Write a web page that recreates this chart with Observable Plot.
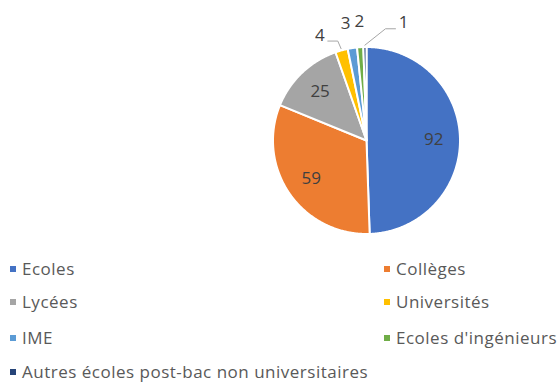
<!DOCTYPE html>
<html><head><meta charset="utf-8">
<script src="https://cdn.jsdelivr.net/npm/d3@7"></script>
<script src="https://cdn.jsdelivr.net/npm/@observablehq/plot@0.6"></script>
<style>
body{margin:0;background:#fff;}
#wrap{position:relative;width:558px;height:383px;font-family:"Open Sans",sans-serif;overflow:hidden}
#wrap svg{position:absolute;left:0;top:0}
.leg{position:absolute;font-size:17px;letter-spacing:0.5px;color:#595959;white-space:nowrap;line-height:16px;height:16px}
.sw{display:inline-block;width:6px;height:6px;margin-right:6px;vertical-align:middle;position:relative;top:-1px}
</style></head><body><div id="wrap"></div>
<script>
const categories = ["Ecoles","Collèges","Lycées","Universités","IME","Ecoles d'ingénieurs","Autres écoles post-bac non universitaires"];
const values = [92,59,25,4,3,2,1];
const colors = ["#4472C4","#ED7D31","#A5A5A5","#FFC000","#5B9BD5","#70AD47","#264478"];

const W = 558, H = 250, R = 93.5, CX = 366, CY = 140;
const total = d3.sum(values);
const deg = Math.PI / 180;
let acc = 0;
const slices = values.map((v, i) => {
  const a0 = acc / total * 360; acc += v; const a1 = acc / total * 360;
  return {name: categories[i], value: v, a0, a1, mid: (a0 + a1) / 2};
});
const polar = (r, a) => ({x: r * Math.sin(a * deg), y: r * Math.cos(a * deg)});

const pts = [];
for (const s of slices) {
  pts.push({name: s.name, ...polar(0, 0)});
  const n = Math.max(2, Math.ceil((s.a1 - s.a0) / 0.5));
  for (let k = 0; k <= n; k++) pts.push({name: s.name, ...polar(1, s.a0 + (s.a1 - s.a0) * k / n)});
  pts.push({name: s.name, ...polar(0, 0)});
}

const inside = slices.filter(s => s.value >= 10).map(s => ({label: String(s.value), ...polar(0.72, s.mid)}));
const outside = slices.filter(s => s.value < 10);
// label nudges (px) for the small outside labels, Excel-style best fit
const nudge = {"Universités": [-15, 9], "IME": [-3, 0], "Ecoles d'ingénieurs": [1, 0], "Autres écoles post-bac non universitaires": [39, 1]};
const outLabels = outside.map(s => {
  const p = polar(1.27, s.mid), [dx, dy] = nudge[s.name];
  return {label: String(s.value), name: s.name, x: p.x + dx / R, y: p.y - dy / R};
});
const leaders = [];
for (const [name, side] of [["Universités", 1], ["Autres écoles post-bac non universitaires", -1]]) {
  const s = slices.find(d => d.name === name);
  const l = outLabels.find(d => d.name === name);
  const start = polar(1.02, s.mid);
  const end = {x: l.x + side * 8 / R, y: l.y - 6 / R};
  const elbow = {x: end.x + side * 10 / R, y: end.y};
  leaders.push({name, ...end}, {name, ...elbow}, {name, ...start});
}

const chart = Plot.plot({
  width: W, height: H, margin: 0,
  x: {domain: [-CX / R, (W - CX) / R], axis: null},
  y: {domain: [-(H - CY) / R, CY / R], axis: null},
  color: {domain: categories, range: colors},
  style: {fontFamily: '"Open Sans", sans-serif', background: "transparent"},
  marks: [
    Plot.line(pts, {x: "x", y: "y", z: "name", fill: "name", stroke: "white", strokeWidth: 2, strokeLinejoin: "round", curve: "linear"}),
    Plot.line(leaders, {x: "x", y: "y", z: "name", stroke: "#A6A6A6", strokeWidth: 1}),
    Plot.text(inside, {x: "x", y: "y", text: "label", fill: "#404040", fontSize: 17}),
    Plot.text(outLabels, {x: "x", y: "y", text: "label", fill: "#404040", fontSize: 17})
  ]
});
const wrap = document.getElementById("wrap");
wrap.appendChild(chart);

const legendRows = [269, 302, 338, 372];
categories.forEach((c, i) => {
  const row = Math.floor(i / 2), col = i % 2;
  const d = document.createElement("div");
  d.className = "leg";
  d.style.left = (col ? 384 : 10) + "px";
  d.style.top = (legendRows[row] - 8) + "px";
  d.innerHTML = `<span class="sw" style="background:${colors[i]}"></span>`;
  d.appendChild(document.createTextNode(c));
  wrap.appendChild(d);
});
</script></body></html>
